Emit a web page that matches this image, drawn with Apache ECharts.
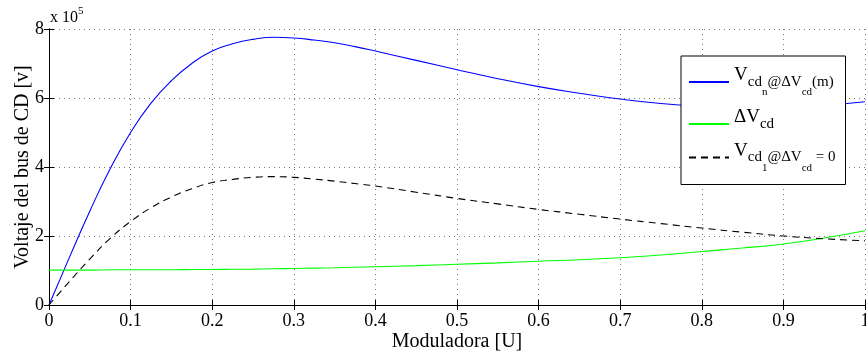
<!DOCTYPE html>
<html>
<head>
<meta charset="utf-8">
<script src="https://cdn.jsdelivr.net/npm/echarts@6/dist/echarts.min.js"></script>
<style>
  html, body { margin: 0; padding: 0; background: #fff; }
  #chart { width: 866px; height: 356px; }
</style>
</head>
<body>
<div id="chart"></div>
<script>
// moduladora (x) y voltajes [v]
const moduladora = [0, 0.025, 0.05, 0.075, 0.1, 0.125, 0.15, 0.175, 0.2, 0.225, 0.25, 0.275, 0.3, 0.325, 0.35, 0.375, 0.4,
    0.45, 0.5, 0.55, 0.6, 0.65, 0.7, 0.75, 0.8, 0.85, 0.9, 0.95, 1.0];
const vcdN = [0, 1.38e5, 2.72e5, 3.95e5, 5.0e5, 5.85e5, 6.5e5, 7.0e5, 7.36e5, 7.57e5, 7.70e5, 7.76e5, 7.74e5, 7.68e5, 7.60e5, 7.49e5, 7.36e5,
    7.09e5, 6.82e5, 6.56e5, 6.33e5, 6.14e5, 5.97e5, 5.84e5, 5.76e5, 5.72e5, 5.73e5, 5.79e5, 5.89e5];
const deltaVcd = [1.01e5, 1.01e5, 1.01e5, 1.02e5, 1.02e5, 1.02e5, 1.02e5, 1.03e5, 1.03e5, 1.035e5, 1.04e5, 1.05e5, 1.06e5, 1.07e5, 1.08e5, 1.095e5, 1.11e5,
    1.14e5, 1.18e5, 1.22e5, 1.27e5, 1.31e5, 1.37e5, 1.45e5, 1.55e5, 1.65e5, 1.77e5, 1.94e5, 2.15e5];
const vcd1 = [0, 0.68e5, 1.33e5, 1.93e5, 2.42e5, 2.82e5, 3.13e5, 3.37e5, 3.55e5, 3.64e5, 3.70e5, 3.72e5, 3.70e5, 3.65e5, 3.59e5, 3.52e5, 3.45e5,
    3.27e5, 3.09e5, 2.93e5, 2.77e5, 2.63e5, 2.49e5, 2.36e5, 2.23e5, 2.11e5, 2.0e5, 1.92e5, 1.86e5];
const xTicks = [0, 0.1, 0.2, 0.3, 0.4, 0.5, 0.6, 0.7, 0.8, 0.9, 1];
const yTicks = [0, 2, 4, 6, 8];

const pares = (ys) => moduladora.map((x, i) => [x, ys[i]]);

const chart = echarts.init(document.getElementById('chart'));
const fuente = 'Liberation Serif';

const leyendaRich = {
    big: { fontFamily: fuente, fontSize: 19, color: '#000', verticalAlign: 'top', lineHeight: 32 },
    mid: { fontFamily: fuente, fontSize: 15, color: '#000', verticalAlign: 'middle', lineHeight: 32 },
    sub: { fontFamily: fuente, fontSize: 11, color: '#000', verticalAlign: 'bottom', lineHeight: 32 }
};

const option = {
    animation: false,
    backgroundColor: '#fff',
    grid: { left: 49, right: 1, top: 29, bottom: 51, containLabel: false, outerBoundsMode: 'none' },
    graphic: [
        {
            type: 'text',
            left: 50,
            top: 6,
            style: {
                text: '{a|x 10}{s|5}',
                rich: {
                    a: { fontFamily: fuente, fontSize: 16, fill: '#000', verticalAlign: 'bottom', lineHeight: 20 },
                    s: { fontFamily: fuente, fontSize: 11, fill: '#000', verticalAlign: 'top', lineHeight: 20 }
                }
            }
        }
    ],
    legend: {
        orient: 'vertical',
        left: 681,
        top: 56,
        width: 166,
        padding: [10, 10, 11, 7],
        itemGap: 10,
        itemWidth: 40,
        itemHeight: 10,
        backgroundColor: '#fff',
        borderColor: '#000',
        borderWidth: 1,
        borderRadius: 0,
        itemStyle: { opacity: 0 },
        data: ['vn', 'dv', 'v1'],
        formatter: function (name) {
            if (name === 'vn') return '{big|V}{mid|cd}{sub|n}{mid|@ΔV}{sub|cd}{mid|(m)}';
            if (name === 'dv') return '{big|ΔV}{mid|cd}';
            return '{big|V}{mid|cd}{sub|1}{mid|@ΔV}{sub|cd}{mid| = 0}';
        },
        textStyle: { rich: leyendaRich, padding: [0, 0, 0, 0] }
    },
    xAxis: [
        {
            type: 'value',
            min: 0,
            max: 1,
            interval: 0.1,
            name: 'Moduladora [U]',
            nameLocation: 'middle',
            nameGap: 27,
            nameMoveOverlap: false,
            nameTextStyle: { fontFamily: fuente, fontSize: 20, color: '#000' },
            axisLine: { show: true, lineStyle: { color: '#000', width: 1 } },
            axisTick: { show: true, inside: true, length: 5, lineStyle: { color: '#000' } },
            axisLabel: {
                fontFamily: fuente, fontSize: 18, color: '#000', margin: 7,
                formatter: function (v) { return xTicks.indexOf(Math.round(v * 10) / 10) >= 0 ? String(Math.round(v * 10) / 10) : ''; }
            },
            splitLine: { show: true, lineStyle: { color: '#777', type: [1, 4], width: 1 } }
        },
        {
            type: 'value',
            position: 'top',
            min: 0,
            max: 1,
            interval: 0.1,
            axisLine: { show: true, lineStyle: { color: '#000', width: 1 } },
            axisTick: { show: true, inside: true, length: 5, lineStyle: { color: '#000' } },
            axisLabel: { show: false },
            splitLine: { show: false }
        }
    ],
    yAxis: [
        {
            type: 'value',
            min: 0,
            max: 8e5,
            interval: 2e5,
            name: 'Voltaje del bus de CD [v]',
            nameLocation: 'middle',
            nameGap: 16,
            nameMoveOverlap: false,
            nameTextStyle: { fontFamily: fuente, fontSize: 20, color: '#000' },
            axisLine: { show: true, lineStyle: { color: '#000', width: 1 } },
            axisTick: { show: true, inside: true, length: 5, lineStyle: { color: '#000' } },
            axisLabel: {
                fontFamily: fuente, fontSize: 18, color: '#000', margin: 5,
                formatter: function (v) { return String(yTicks[Math.round(v / 2e5)]); }
            },
            splitLine: { show: true, lineStyle: { color: '#777', type: [1, 4], width: 1 } }
        },
        {
            type: 'value',
            position: 'right',
            min: 0,
            max: 8e5,
            interval: 2e5,
            axisLine: { show: true, lineStyle: { color: '#000', width: 1 } },
            axisTick: { show: true, inside: true, length: 5, lineStyle: { color: '#000' } },
            axisLabel: { show: false },
            splitLine: { show: false }
        }
    ],
    series: [
        {
            name: 'vn',
            type: 'line',
            smooth: 0.5,
            symbol: 'none',
            lineStyle: { color: '#0000ff', width: 1.1 },
            itemStyle: { color: '#0000ff' },
            data: pares(vcdN),
            z: 3
        },
        {
            name: 'dv',
            type: 'line',
            smooth: 0.5,
            symbol: 'none',
            lineStyle: { color: '#00ff00', width: 1.1 },
            itemStyle: { color: '#00ff00' },
            data: pares(deltaVcd),
            z: 3
        },
        {
            name: 'v1',
            type: 'line',
            smooth: 0.5,
            symbol: 'none',
            lineStyle: { color: '#000', width: 1.1, type: [7, 5] },
            itemStyle: { color: '#000' },
            data: pares(vcd1),
            z: 3
        }
    ]
};
chart.setOption(option);
</script>
</body>
</html>
